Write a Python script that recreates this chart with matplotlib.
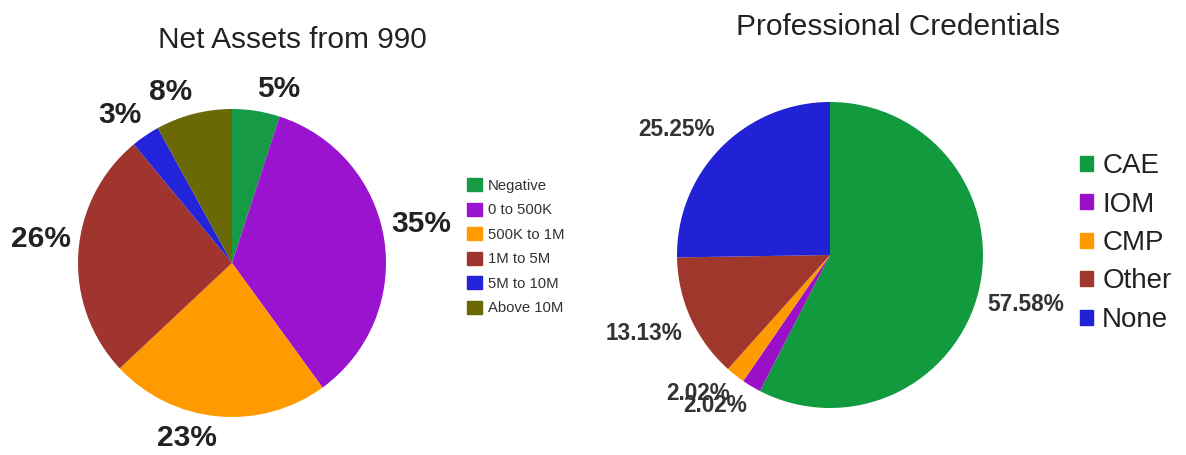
import numpy as np
import matplotlib.pyplot as plt
from matplotlib.patches import Patch

plt.rcParams['font.family'] = ['Liberation Sans', 'DejaVu Sans']

# net assets pie
asset_names = ['Negative', '0 to 500K', '500K to 1M', '1M to 5M', '5M to 10M', 'Above 10M']
asset_pct = [5, 35, 23, 26, 3, 8]
asset_colors = ['#169a45', '#9a14cf', '#ff9b00', '#a0352f', '#2323d9', '#6b6806']

# credentials pie
cred_names = ['CAE', 'IOM', 'CMP', 'Other', 'None']
cred_counts = [57, 2, 2, 13, 25]
cred_colors = ['#129a3f', '#9a10c8', '#ff9900', '#a0372d', '#2121d6']

W, H = 1186, 455
fig = plt.figure(figsize=(W / 100, H / 100), dpi=100)


def pie_axes(cx, cy, r):
    side = 2 * 1.25 * r
    return fig.add_axes([(cx - side / 2) / W, (H - cy - side / 2) / H, side / W, side / H])


def fix_va(wedges, texts):
    # labels sit with their near edge toward the pie
    for w, t in zip(wedges, texts):
        ang = np.deg2rad((w.theta1 + w.theta2) / 2)
        if np.sin(ang) < -0.2:
            t.set_va('top')
        else:
            t.set_va('bottom')


ax1 = pie_axes(232, 263, 154)
lbl1 = ['%d%%' % v for v in asset_pct]
w1, t1 = ax1.pie(asset_pct, colors=asset_colors, labels=lbl1, startangle=90,
                 counterclock=False, labeldistance=1.05,
                 textprops=dict(fontsize=21.5, fontweight='bold', color='#222222'))
fix_va(w1, t1)
ax1.set_aspect('equal')
fig.text(292 / W, 1 - 40 / H, 'Net Assets from 990', ha='center', va='center',
         fontsize=21.5, color='#222222')

ax2 = pie_axes(830, 255, 153)
total = sum(cred_counts)
lbl2 = ['%.2f%%' % (100.0 * v / total) for v in cred_counts]
w2, t2 = ax2.pie(cred_counts, colors=cred_colors, labels=lbl2, startangle=90,
                 counterclock=False, labeldistance=1.06,
                 textprops=dict(fontsize=16.3, fontweight='bold', color='#333333'))
fix_va(w2, t2)
ax2.set_aspect('equal')
fig.text(898 / W, 1 - 27 / H, 'Professional Credentials', ha='center', va='center',
         fontsize=21.5, color='#222222')

h1 = [Patch(color=c) for c in asset_colors]
fig.legend(h1, asset_names, loc='upper left', bbox_to_anchor=(467 / W, 1 - 178 / H),
           frameon=False, fontsize=10.7, handlelength=1.0, handleheight=1.0,
           handletextpad=0.4, labelspacing=0.66, borderpad=0, borderaxespad=0,
           labelcolor='#333333')

h2 = [Patch(color=c) for c in cred_colors]
fig.legend(h2, cred_names, loc='upper left', bbox_to_anchor=(1080 / W, 1 - 153 / H),
           frameon=False, fontsize=20, handlelength=0.45, handleheight=0.45,
           handletextpad=0.35, labelspacing=0.45, borderpad=0, borderaxespad=0,
           labelcolor='#222222')

fig.savefig('out.png', dpi=100)
